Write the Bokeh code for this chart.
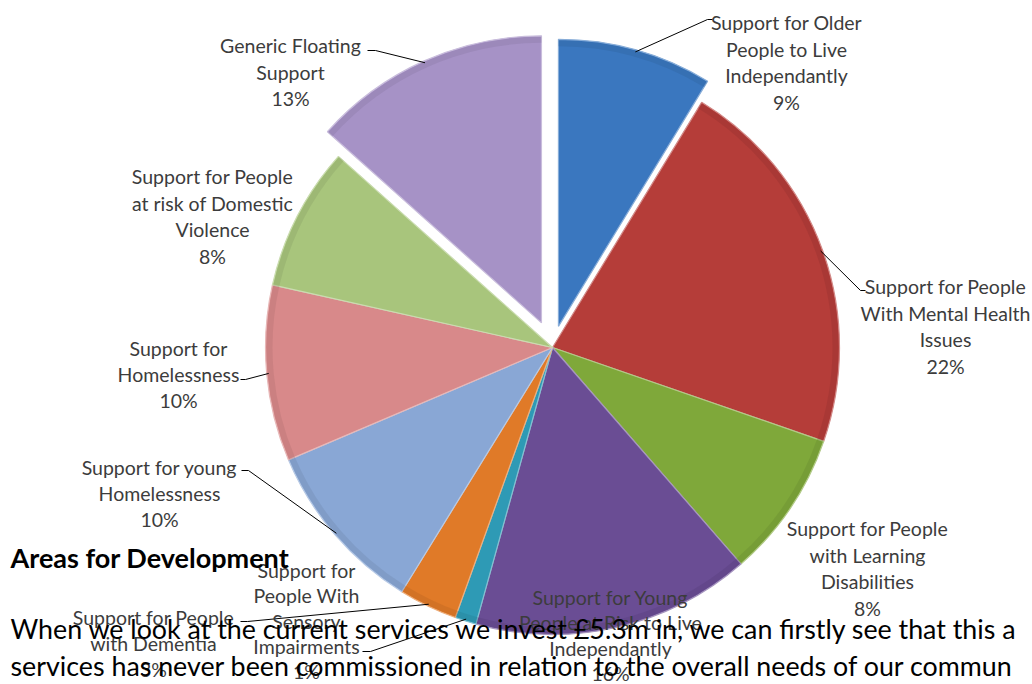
import numpy as np
from bokeh.plotting import figure
from bokeh.models import Range1d, ColumnDataSource
from bokeh.core.properties import value
from bokeh.embed import file_html
from bokeh.resources import INLINE

# ---------------- data ----------------
categories = [
    "Support for Older People to Live Independantly",
    "Support for People With Mental Health Issues",
    "Support for People with Learning Disabilities",
    "Support for Young People at Risk to Live Independantly",
    "Support for People With Sensory Impairments",
    "Support for People with Dementia",
    "Support for young Homelessness",
    "Support for Homelessness",
    "Support for People at risk of Domestic Violence",
    "Generic Floating Support",
]
shares = [8.7, 21.6, 8.3, 15.7, 1.2, 3.3, 9.8, 9.9, 8.1, 13.4]
label_lines = [
    ["Support for Older", "People to Live", "Independantly"],
    ["Support for People", "With Mental Health", "Issues"],
    ["Support for People", "with Learning", "Disabilities"],
    ["Support for Young", "People at Risk to Live", "Independantly"],
    ["Support for", "People With", "Sensory", "Impairments"],
    ["Support for People", "with Dementia"],
    ["Support for young", "Homelessness"],
    ["Support for", "Homelessness"],
    ["Support for People", "at risk of Domestic", "Violence"],
    ["Generic Floating", "Support"],
]
colors = ["#3A77BF", "#B53D39", "#7FA83A", "#6A4D94", "#2E9AB5",
          "#E07A28", "#89A7D5", "#D8898A", "#A8C57C", "#A692C6"]

heading = "Areas for Development"
body_lines = [
    "When we look at the current services we invest £5.3m in, we can firstly see that this a",
    "services has never been commissioned in relation to the overall needs of our commun",
]

# ---------------- layout ----------------
W, H = 1032, 684
CX, CY, R = 552, 347, 287
explode = [22, 0, 0, 0, 0, 0, 0, 0, 0, 27]
# (center x, first line y, line spacing)
label_pos = [(786, 22, 26.5), (945, 286, 26.5), (867, 528, 26.5),
             (610, 597, 25.3), (306, 570, 25.3), (153, 617, 26.0),
             (159, 467, 26.0), (178, 348, 26.0), (212, 176, 26.5),
             (290, 45, 26.5)]
# leader: (elbow, end) in page coords, None if no leader
leaders = [((707, 19), (712, 19)), ((860, 290), (865, 290)), None, None,
           ((370, 651), (362, 651)), ((247, 621), (240, 621)),
           ((248, 470), (241, 470)), ((245, 379), (240, 379)), None,
           ((375, 50), (367, 50))]


def Y(py):
    return H - py


p = figure(width=W, height=H, x_range=Range1d(0, W), y_range=Range1d(0, H),
           output_backend="svg", toolbar_location=None, min_border=0,
           x_axis_location=None, y_axis_location=None)
p.grid.visible = False
p.outline_line_color = None
p.background_fill_color = "white"
p.border_fill_color = "white"

vals = np.array(shares, dtype=float)
frac = vals / vals.sum()
cum_end = np.cumsum(frac)
cum_start = cum_end - frac
mid = (cum_start + cum_end) / 2
# clockwise from 12 o'clock -> bokeh ccw-from-x angles
start_a = np.pi / 2 - 2 * np.pi * cum_end
end_a = np.pi / 2 - 2 * np.pi * cum_start
mid_a = np.pi / 2 - 2 * np.pi * mid
ex = np.array(explode, dtype=float)
cx = CX + ex * np.cos(mid_a)
cy = Y(CY) + ex * np.sin(mid_a)


def shade(hexc, f):
    h = hexc.lstrip("#")
    r, g, b = (int(h[i:i + 2], 16) for i in (0, 2, 4))
    if f >= 0:
        r, g, b = (int(c + (255 - c) * f) for c in (r, g, b))
    else:
        r, g, b = (int(c * (1 + f)) for c in (r, g, b))
    return "#%02x%02x%02x" % (r, g, b)


src = ColumnDataSource(dict(x=cx, y=cy, s=start_a, e=end_a, c=colors,
                            dark=[shade(c, -0.2) for c in colors],
                            light=[shade(c, 0.4) for c in colors],
                            name=categories))
p.wedge(x="x", y="y", radius=R, start_angle="s", end_angle="e",
        fill_color="c", line_color="light", line_width=1.2, source=src)
# subtle bevel-like rim shading
p.annular_wedge(x="x", y="y", inner_radius=R - 7, outer_radius=R - 1,
                start_angle="s", end_angle="e", fill_color="dark",
                fill_alpha=0.3, line_color=None, source=src)

# leader lines from slice rim to labels
lx, ly = [], []
for i, ld in enumerate(leaders):
    if ld is None:
        continue
    rx = cx[i] + (R - 2) * np.cos(mid_a[i])
    ry = cy[i] + (R - 2) * np.sin(mid_a[i])
    (e1x, e1y), (e2x, e2y) = ld
    lx.append([rx, e1x, e2x])
    ly.append([ry, Y(e1y), Y(e2y)])
p.multi_line(xs=lx, ys=ly, line_color="black", line_width=1)

# labels
tx, ty, tt = [], [], []
for i, lines in enumerate(label_lines):
    x0, y0, sp = label_pos[i]
    allines = lines + ["%d%%" % round(shares[i])]
    for k, t in enumerate(allines):
        tx.append(x0)
        ty.append(Y(y0 + k * sp))
        tt.append(t)
p.text(x=tx, y=ty, text=tt, text_font=value("Lato"), text_font_size="19.5px",
       text_align="center", text_baseline="middle", text_color="#3c3c3c")

# document text overlapping the chart
p.text(x=[10], y=[Y(557)], text=[heading], text_font=value("Lato"),
       text_font_size="27px", text_font_style="bold", text_align="left",
       text_baseline="middle", text_color="black")
p.text(x=[10, 10], y=[Y(628), Y(665)], text=body_lines,
       text_font=value("Lato"), text_font_size="26.8px", text_align="left",
       text_baseline="middle", text_color="black")

open("out.html", "w").write(file_html(p, INLINE))
